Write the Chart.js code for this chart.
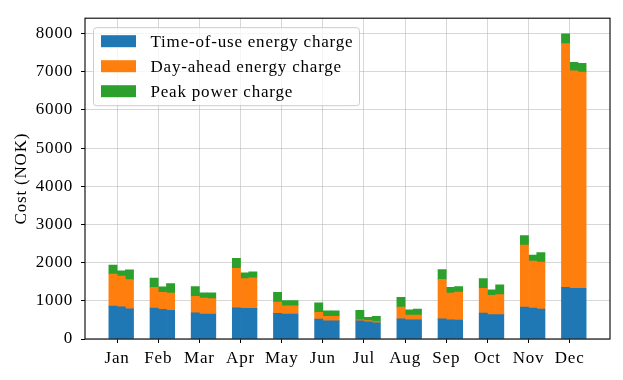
<!DOCTYPE html>
<html>
<head>
<title>Monthly cost</title>
<script src="https://cdn.jsdelivr.net/npm/chart.js"></script>
<style>
    body { margin: 0; background: #fff; }
    #wrap { width: 623px; height: 380px; }
</style>
</head>
<body>
<div id="wrap"><canvas id="costChart"></canvas></div>
<script>
// three bars per month, costs in NOK
const months = ['Jan', 'Feb', 'Mar', 'Apr', 'May', 'Jun', 'Jul', 'Aug', 'Sep', 'Oct', 'Nov', 'Dec'];
const touCharge = [
    [860, 842, 791], [809, 775, 750], [688, 655, 655], [816, 801, 801],
    [673, 655, 655], [519, 475, 475], [475, 449, 424], [526, 501, 501],
    [526, 501, 493], [680, 637, 637], [834, 809, 783], [1356, 1330, 1330]
];
const dayAheadCharge = [
    [839, 806, 762], [539, 444, 451], [429, 418, 403], [1037, 778, 803],
    [297, 213, 213], [179, 121, 121], [26, 34, 33], [308, 128, 128],
    [1035, 700, 734], [650, 505, 523], [1625, 1232, 1232], [6377, 5692, 5658]
];
const peakCharge = [
    [239, 136, 257], [249, 147, 249], [256, 139, 154], [257, 154, 154],
    [249, 138, 138], [246, 143, 143], [249, 87, 139], [257, 136, 154],
    [256, 154, 146], [249, 147, 257], [249, 154, 249], [257, 223, 232]
];
const barOffsets = [-0.1, 0.1, 0.3];
const yTicks = [0, 1000, 2000, 3000, 4000, 5000, 6000, 7000, 8000];

const FONT = { family: '"Liberation Serif", serif', size: 17 };
const GRID = 'rgba(176, 176, 176, 0.5)';
const SPACING = '0.8px'; // Liberation Serif is narrower than the LaTeX font

function toPoints(rows) {
    return rows.flatMap((r, i) => r.map((v, k) => ({ x: i + barOffsets[k], y: v })));
}

function barSet(label, rows, color) {
    return {
        label: label,
        data: toPoints(rows),
        backgroundColor: color,
        borderWidth: 0,
        barPercentage: 1,
        categoryPercentage: 1
    };
}

// box around the plot + legend inside the axes (matplotlib style)
const framePlugin = {
    id: 'frame',
    beforeDraw(chart) {
        chart.ctx.letterSpacing = SPACING;
    },
    afterDraw(chart) {
        const ctx = chart.ctx;
        const a = chart.chartArea;
        ctx.save();
        ctx.strokeStyle = '#000';
        ctx.lineWidth = 1.1;
        ctx.strokeRect(a.left, a.top, a.right - a.left, a.bottom - a.top);

        // legend
        const bx = a.left + 8.5, by = a.top + 9.5, bw = 266, bh = 78;
        ctx.beginPath();
        ctx.roundRect(bx, by, bw, bh, 3);
        ctx.fillStyle = 'rgba(255, 255, 255, 0.8)';
        ctx.fill();
        ctx.strokeStyle = '#cccccc';
        ctx.lineWidth = 1;
        ctx.stroke();

        ctx.font = FONT.size + 'px ' + FONT.family;
        ctx.letterSpacing = SPACING;
        ctx.textBaseline = 'middle';
        chart.data.datasets.forEach((ds, k) => {
            const cy = by + 13.5 + k * 25;
            ctx.fillStyle = ds.backgroundColor;
            ctx.fillRect(bx + 7.5, cy - 6, 35, 12);
            ctx.fillStyle = '#000';
            ctx.fillText(ds.label, bx + 57, cy + 1);
        });
        ctx.restore();
    }
};

const ctx = document.getElementById('costChart').getContext('2d');
new Chart(ctx, {
    type: 'bar',
    data: {
        datasets: [
            barSet('Time-of-use energy charge', touCharge, '#1f77b4'),
            barSet('Day-ahead energy charge', dayAheadCharge, '#ff7f0e'),
            barSet('Peak power charge', peakCharge, '#2ca02c')
        ]
    },
    options: {
        responsive: true,
        maintainAspectRatio: false,
        animation: false,
        layout: { padding: { left: 0, right: 13, top: 12, bottom: 0 } },
        plugins: {
            legend: { display: false },
            tooltip: { enabled: false }
        },
        scales: {
            x: {
                type: 'linear',
                min: -0.78,
                max: 11.98,
                offset: false,
                stacked: true,
                z: 1,
                afterBuildTicks: s => { s.ticks = months.map((m, i) => ({ value: i })); },
                afterFit: s => { s.height = 41; },
                ticks: {
                    callback: v => months[v],
                    font: FONT,
                    color: '#000',
                    padding: 5,
                    maxRotation: 0,
                    autoSkip: false
                },
                grid: { offset: false, color: GRID, tickColor: '#000', tickLength: 4, lineWidth: 1 },
                border: { display: false }
            },
            y: {
                min: 0,
                max: 8400,
                stacked: true,
                z: 1,
                afterBuildTicks: s => { s.ticks = yTicks.map(v => ({ value: v })); },
                afterFit: s => { s.width = 85; },
                ticks: { font: FONT, color: '#000', padding: 8, callback: v => String(v) },
                grid: { color: GRID, tickColor: '#000', tickLength: 4, lineWidth: 1 },
                border: { display: false },
                title: { display: true, text: 'Cost (NOK)', font: FONT, color: '#000', padding: { top: 11, bottom: 0 } }
            }
        }
    },
    plugins: [framePlugin]
});
</script>
</body>
</html>
